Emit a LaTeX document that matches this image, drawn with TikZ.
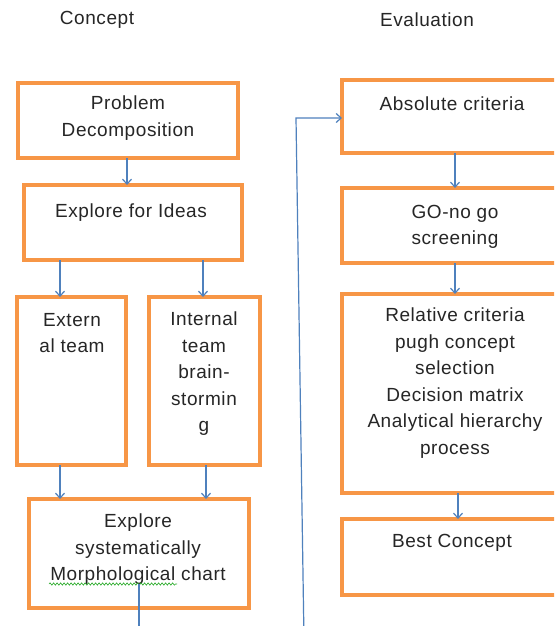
\documentclass[tikz,border=0pt]{standalone}
\usepackage{fontspec}
\setmainfont{Liberation Sans}[LetterSpace=3]
\usetikzlibrary{arrows.meta,decorations.pathmorphing}
\definecolor{boxorange}{RGB}{247,150,70}
\definecolor{arrblue}{RGB}{79,129,189}
\definecolor{spellgreen}{RGB}{40,170,40}
\tikzset{
  box/.style={draw=boxorange, line width=4pt, fill=white, rectangle, inner sep=0pt, outer sep=0pt},
  txt/.style={font=\fontsize{19}{26.5}\selectfont, align=center, inner sep=0pt, anchor=north, text=black!85},
  head/.style={font=\fontsize{19}{26.5}\selectfont, inner sep=0pt, text=black!85},
  conn/.style={draw=arrblue, line width=1.2pt},
  arr/.style={conn, -{Straight Barb[length=5pt,width=9pt,line width=1.2pt]}},
}
\begin{document}
\begin{tikzpicture}[x=1pt,y=-1pt]
\clip (0,0) rectangle (554,626);
\fill[white] (0,0) rectangle (554,626);
% headings
\node[head] (hc) at (97,20) {Concept};
\node[head] (he) at (427,20) {Evaluation};
% left column boxes
\node[box, minimum width=220pt, minimum height=75pt] (pd) at (128,120.5) {};
\node[box, minimum width=218pt, minimum height=75pt] (efi) at (133,222.5) {};
\node[box, minimum width=109pt, minimum height=168pt] (ext) at (71.5,381) {};
\node[box, minimum width=111pt, minimum height=168pt] (int) at (204.5,381) {};
\node[box, minimum width=220pt, minimum height=109pt] (es) at (139,553.5) {};
% right column boxes
\node[box, minimum width=222pt, minimum height=73pt] (abs) at (453,116.5) {};
\node[box, minimum width=222pt, minimum height=75pt] (go) at (453,225.5) {};
\node[box, minimum width=222pt, minimum height=199pt] (rel) at (453,393.5) {};
\node[box, minimum width=222pt, minimum height=76pt] (best) at (453,557) {};
% texts
\node[txt] (pdt) at (128,96) {Problem\\Decomposition};
\node[txt] (efit) at (131,204) {Explore for Ideas};
\node[txt] (extt) at (72,313) {Extern\\al team};
\node[txt] (intt) at (204,312) {Internal\\team\\brain-\\stormin\\g};
\node[txt] (est) at (138,514) {Explore\\systematically\\Morphological chart};
\node[txt] (abst) at (452,97) {Absolute criteria};
\node[txt] (got) at (455,205) {GO-no go\\screening};
\node[txt] (relt) at (455,308) {Relative criteria\\pugh concept\\selection\\Decision matrix\\Analytical hierarchy\\process};
\node[txt] (bestt) at (452,534) {Best Concept};
% spell-check squiggle
\coordinate (sq1) at (49,584);
\coordinate (sq2) at (177,584);
\draw[spellgreen, line width=0.6pt, decorate, decoration={snake, amplitude=1.2pt, segment length=3.5pt}] (sq1) -- (sq2);
% connectors left
\draw[arr] (pd.south -| 127,0) -- (efi.north -| 127,0);
\draw[arr] ([xshift=-11.5pt]ext.north |- efi.south) -- ([xshift=-11.5pt]ext.north);
\draw[arr] ([xshift=-1.5pt]int.north |- efi.south) -- ([xshift=-1.5pt]int.north);
\draw[arr] ([xshift=-11.5pt]ext.south) -- ([xshift=-11.5pt]ext.south |- es.north);
\draw[arr] ([xshift=1.5pt]int.south) -- ([xshift=1.5pt]int.south |- es.north);
% connectors right
\draw[arr] ([xshift=2pt]abs.south) -- ([xshift=2pt]abs.south |- go.north);
\draw[arr] ([xshift=2pt]go.south) -- ([xshift=2pt]go.south |- rel.north);
\draw[arr] ([xshift=5pt]rel.south) -- ([xshift=5pt]rel.south |- best.north);
% bottom connectors
\coordinate (esb) at (139,584);
\coordinate (esout) at (139,640);
\draw[conn] (esb) -- (esout);
\coordinate (lb) at (304,640);
\coordinate (lt) at (296,118);
\draw[arr] (lb) -- (lt) -- (lt -| abs.west);
\end{tikzpicture}
\end{document}
